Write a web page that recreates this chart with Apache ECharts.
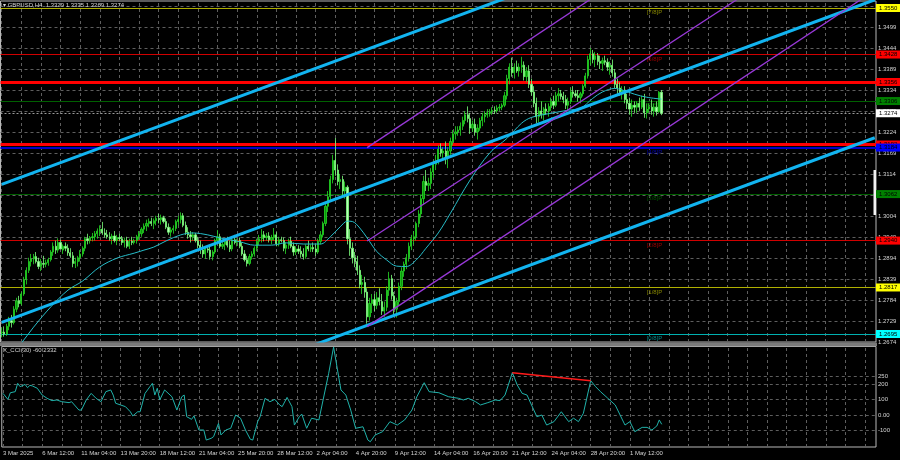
<!DOCTYPE html>
<html><head><meta charset="utf-8">
<script src="https://cdn.jsdelivr.net/npm/echarts@6/dist/echarts.min.js"></script>
<style>html,body{margin:0;padding:0;background:#000;}#c{width:900px;height:460px;}</style>
</head><body><div id="c"></div>
<script>
// ---------- DATA ----------
const symbolName = 'GBPUSD,H4';
// H4 candles [open, high, low, close]; bar 0 = 3 Mar 20:00
const candles = [
[1.2698,1.2712,1.2686,1.2700],
[1.2700,1.2715,1.2688,1.2695],[1.2695,1.2722,1.2690,1.2715],[1.2715,1.2740,1.2705,1.2730],[1.2730,1.2745,1.2712,1.2725],[1.2725,1.2768,1.2720,1.2760],[1.2760,1.2790,1.2752,1.2782],
[1.2782,1.2795,1.2765,1.2775],[1.2775,1.2805,1.2770,1.2800],[1.2800,1.2845,1.2795,1.2838],[1.2838,1.2870,1.2825,1.2862],[1.2862,1.2895,1.2855,1.2885],[1.2885,1.2905,1.2872,1.2892],
[1.2892,1.2905,1.2878,1.2898],[1.2898,1.2910,1.2880,1.2885],[1.2885,1.2895,1.2865,1.2872],[1.2872,1.2892,1.2860,1.2880],[1.2880,1.2900,1.2868,1.2878],[1.2878,1.2890,1.2870,1.2882],
[1.2882,1.2895,1.2874,1.2890],[1.2890,1.2915,1.2885,1.2910],[1.2910,1.2935,1.2900,1.2925],[1.2925,1.2940,1.2905,1.2915],[1.2915,1.2946,1.2908,1.2935],[1.2935,1.2942,1.2920,1.2918],
[1.2915,1.2930,1.2905,1.2925],[1.2925,1.2935,1.2912,1.2920],[1.2920,1.2930,1.2900,1.2908],[1.2908,1.2920,1.2895,1.2900],[1.2900,1.2910,1.2870,1.2880],[1.2880,1.2895,1.2868,1.2885],
[1.2885,1.2900,1.2872,1.2895],[1.2895,1.2915,1.2885,1.2905],[1.2905,1.2925,1.2898,1.2920],[1.2920,1.2950,1.2912,1.2945],[1.2945,1.2958,1.2930,1.2940],[1.2940,1.2952,1.2932,1.2948],
[1.2948,1.2960,1.2938,1.2950],[1.2950,1.2965,1.2940,1.2958],[1.2958,1.2972,1.2945,1.2965],[1.2965,1.2980,1.2952,1.2970],[1.2970,1.2989,1.2955,1.2960],[1.2960,1.2972,1.2948,1.2955],
[1.2955,1.2968,1.2945,1.2950],[1.2950,1.2962,1.2940,1.2945],[1.2945,1.2958,1.2930,1.2952],[1.2952,1.2965,1.2935,1.2940],[1.2940,1.2955,1.2928,1.2948],[1.2948,1.2958,1.2938,1.2945],
[1.2945,1.2952,1.2928,1.2935],[1.2935,1.2948,1.2922,1.2940],[1.2940,1.2950,1.2920,1.2925],[1.2925,1.2945,1.2918,1.2938],[1.2938,1.2950,1.2928,1.2935],[1.2935,1.2945,1.2930,1.2940],
[1.2940,1.2955,1.2932,1.2950],[1.2950,1.2965,1.2942,1.2958],[1.2958,1.2975,1.2950,1.2970],[1.2970,1.2985,1.2960,1.2978],[1.2978,1.2995,1.2965,1.2985],[1.2985,1.2998,1.2975,1.2990],
[1.2990,1.3000,1.2978,1.2985],[1.2985,1.2998,1.2970,1.2992],[1.2992,1.3005,1.2980,1.2998],[1.2998,1.3010,1.2985,1.2995],[1.2995,1.3008,1.2982,1.3000],[1.3000,1.3005,1.2985,1.2990],
[1.2990,1.2998,1.2970,1.2975],[1.2975,1.2985,1.2955,1.2962],[1.2962,1.2975,1.2950,1.2968],[1.2968,1.2980,1.2958,1.2972],[1.2972,1.2995,1.2965,1.2990],[1.2990,1.3005,1.2980,1.2995],
[1.2995,1.3014,1.2985,1.3005],[1.3005,1.3012,1.2975,1.2980],[1.2980,1.2990,1.2955,1.2962],[1.2962,1.2975,1.2945,1.2955],[1.2955,1.2965,1.2935,1.2950],[1.2950,1.2962,1.2940,1.2955],
[1.2955,1.2960,1.2935,1.2940],[1.2940,1.2950,1.2920,1.2928],[1.2928,1.2940,1.2905,1.2915],[1.2915,1.2930,1.2895,1.2905],[1.2905,1.2925,1.2892,1.2918],[1.2918,1.2925,1.2908,1.2915],
[1.2915,1.2925,1.2890,1.2898],[1.2898,1.2915,1.2888,1.2910],[1.2910,1.2945,1.2905,1.2940],[1.2940,1.2968,1.2930,1.2950],[1.2950,1.2958,1.2920,1.2925],[1.2925,1.2940,1.2918,1.2930],
[1.2930,1.2945,1.2915,1.2938],[1.2938,1.2950,1.2922,1.2928],[1.2928,1.2940,1.2910,1.2918],[1.2918,1.2948,1.2912,1.2942],[1.2942,1.2955,1.2930,1.2935],[1.2935,1.2945,1.2925,1.2940],
[1.2940,1.2948,1.2920,1.2925],[1.2925,1.2935,1.2900,1.2905],[1.2905,1.2915,1.2885,1.2890],[1.2890,1.2900,1.2872,1.2880],[1.2880,1.2905,1.2875,1.2898],[1.2898,1.2912,1.2890,1.2905],
[1.2905,1.2925,1.2898,1.2920],[1.2920,1.2945,1.2912,1.2938],[1.2938,1.2955,1.2928,1.2945],[1.2945,1.2970,1.2935,1.2955],[1.2955,1.2965,1.2938,1.2948],[1.2948,1.2960,1.2940,1.2952],
[1.2952,1.2962,1.2935,1.2942],[1.2942,1.2955,1.2930,1.2948],[1.2948,1.2973,1.2940,1.2955],[1.2955,1.2962,1.2925,1.2932],[1.2932,1.2950,1.2925,1.2942],[1.2942,1.2950,1.2935,1.2940],
[1.2940,1.2948,1.2912,1.2920],[1.2920,1.2935,1.2905,1.2928],[1.2928,1.2945,1.2918,1.2938],[1.2938,1.2950,1.2920,1.2925],[1.2925,1.2935,1.2900,1.2910],[1.2910,1.2925,1.2902,1.2918],
[1.2918,1.2928,1.2905,1.2912],[1.2912,1.2925,1.2895,1.2905],[1.2905,1.2920,1.2890,1.2898],[1.2898,1.2930,1.2892,1.2925],[1.2925,1.2940,1.2912,1.2918],[1.2918,1.2930,1.2910,1.2922],
[1.2922,1.2935,1.2910,1.2918],[1.2918,1.2930,1.2900,1.2910],[1.2910,1.2945,1.2905,1.2938],[1.2938,1.2965,1.2930,1.2955],[1.2955,1.2990,1.2948,1.2985],[1.2985,1.3040,1.2978,1.3030],
[1.3030,1.3070,1.3015,1.3055],[1.3055,1.3110,1.3045,1.3100],[1.3100,1.3165,1.3090,1.3150],[1.3150,1.3209,1.3110,1.3125],[1.3125,1.3140,1.3085,1.3095],[1.3095,1.3115,1.3075,1.3100],
[1.3100,1.3110,1.3060,1.3070],[1.3070,1.3095,1.3050,1.3080],[1.3080,1.3085,1.2930,1.2945],[1.2945,1.2970,1.2900,1.2920],[1.2920,1.2935,1.2880,1.2895],[1.2895,1.2910,1.2870,1.2885],
[1.2885,1.2900,1.2850,1.2862],[1.2862,1.2875,1.2815,1.2825],[1.2825,1.2850,1.2800,1.2830],[1.2830,1.2845,1.2790,1.2805],[1.2805,1.2815,1.2722,1.2740],[1.2740,1.2790,1.2730,1.2775],
[1.2775,1.2800,1.2750,1.2785],[1.2785,1.2800,1.2755,1.2770],[1.2770,1.2805,1.2760,1.2790],[1.2790,1.2815,1.2770,1.2780],[1.2780,1.2800,1.2745,1.2755],[1.2755,1.2780,1.2740,1.2765],
[1.2765,1.2820,1.2755,1.2810],[1.2810,1.2858,1.2795,1.2840],[1.2840,1.2850,1.2785,1.2795],[1.2795,1.2805,1.2745,1.2760],[1.2760,1.2790,1.2738,1.2780],[1.2780,1.2830,1.2770,1.2820],
[1.2820,1.2870,1.2810,1.2860],[1.2860,1.2885,1.2845,1.2878],[1.2878,1.2905,1.2865,1.2895],[1.2895,1.2935,1.2885,1.2925],[1.2925,1.2955,1.2915,1.2945],[1.2945,1.2965,1.2930,1.2950],
[1.2950,1.2990,1.2940,1.2985],[1.2985,1.3020,1.2975,1.3010],[1.3010,1.3060,1.3000,1.3050],[1.3050,1.3110,1.3035,1.3095],[1.3095,1.3125,1.3070,1.3085],[1.3085,1.3105,1.3070,1.3090],
[1.3090,1.3130,1.3075,1.3120],[1.3120,1.3150,1.3105,1.3140],[1.3140,1.3165,1.3125,1.3150],[1.3150,1.3190,1.3140,1.3180],[1.3180,1.3195,1.3160,1.3170],[1.3170,1.3185,1.3150,1.3175],
[1.3175,1.3200,1.3140,1.3160],[1.3160,1.3185,1.3130,1.3175],[1.3175,1.3210,1.3165,1.3200],[1.3200,1.3230,1.3190,1.3220],[1.3220,1.3240,1.3205,1.3225],[1.3225,1.3240,1.3215,1.3230],
[1.3230,1.3250,1.3215,1.3240],[1.3240,1.3265,1.3230,1.3255],[1.3255,1.3280,1.3245,1.3270],[1.3270,1.3292,1.3250,1.3260],[1.3260,1.3275,1.3220,1.3235],[1.3235,1.3255,1.3225,1.3245],
[1.3245,1.3260,1.3215,1.3225],[1.3225,1.3245,1.3205,1.3235],[1.3235,1.3262,1.3228,1.3255],[1.3255,1.3275,1.3240,1.3265],[1.3265,1.3280,1.3250,1.3270],[1.3270,1.3285,1.3262,1.3275],
[1.3275,1.3285,1.3265,1.3278],[1.3278,1.3290,1.3270,1.3282],[1.3282,1.3292,1.3272,1.3280],[1.3280,1.3295,1.3275,1.3288],[1.3288,1.3298,1.3280,1.3290],[1.3290,1.3300,1.3282,1.3295],
[1.3295,1.3330,1.3290,1.3320],[1.3320,1.3375,1.3310,1.3365],[1.3365,1.3405,1.3350,1.3395],[1.3395,1.3420,1.3370,1.3380],[1.3380,1.3405,1.3365,1.3395],[1.3395,1.3412,1.3380,1.3385],
[1.3385,1.3405,1.3370,1.3395],[1.3395,1.3422,1.3380,1.3400],[1.3400,1.3410,1.3360,1.3370],[1.3370,1.3395,1.3355,1.3385],[1.3385,1.3400,1.3340,1.3350],[1.3350,1.3365,1.3320,1.3330],
[1.3330,1.3345,1.3290,1.3300],[1.3300,1.3315,1.3248,1.3265],[1.3265,1.3290,1.3250,1.3280],[1.3280,1.3305,1.3260,1.3270],[1.3270,1.3290,1.3255,1.3285],[1.3285,1.3300,1.3270,1.3280],
[1.3280,1.3300,1.3265,1.3292],[1.3292,1.3315,1.3280,1.3305],[1.3305,1.3320,1.3285,1.3295],[1.3295,1.3330,1.3290,1.3320],[1.3320,1.3340,1.3305,1.3325],[1.3325,1.3335,1.3310,1.3318],
[1.3318,1.3330,1.3300,1.3310],[1.3310,1.3322,1.3285,1.3295],[1.3295,1.3315,1.3280,1.3305],[1.3305,1.3340,1.3298,1.3330],[1.3330,1.3345,1.3315,1.3325],[1.3325,1.3335,1.3315,1.3320],
[1.3320,1.3335,1.3305,1.3315],[1.3315,1.3330,1.3300,1.3325],[1.3325,1.3350,1.3318,1.3345],[1.3345,1.3380,1.3340,1.3372],[1.3372,1.3425,1.3365,1.3415],[1.3415,1.3445,1.3400,1.3430],
[1.3430,1.3440,1.3405,1.3415],[1.3415,1.3435,1.3395,1.3425],[1.3425,1.3432,1.3400,1.3410],[1.3410,1.3425,1.3390,1.3405],[1.3405,1.3420,1.3385,1.3412],[1.3412,1.3425,1.3400,1.3408],
[1.3408,1.3418,1.3385,1.3395],[1.3395,1.3410,1.3375,1.3400],[1.3400,1.3415,1.3370,1.3380],[1.3380,1.3390,1.3340,1.3350],[1.3350,1.3365,1.3325,1.3340],[1.3340,1.3355,1.3320,1.3330],
[1.3330,1.3345,1.3310,1.3335],[1.3335,1.3345,1.3300,1.3310],[1.3310,1.3325,1.3285,1.3300],[1.3300,1.3315,1.3270,1.3285],[1.3285,1.3310,1.3265,1.3295],[1.3295,1.3305,1.3275,1.3290],
[1.3290,1.3305,1.3275,1.3300],[1.3300,1.3315,1.3280,1.3290],[1.3290,1.3320,1.3285,1.3310],[1.3310,1.3325,1.3262,1.3275],[1.3275,1.3300,1.3260,1.3285],[1.3285,1.3300,1.3275,1.3290],
[1.3290,1.3310,1.3270,1.3280],[1.3280,1.3300,1.3265,1.3290],[1.3290,1.3305,1.3268,1.3278],[1.3278,1.3332,1.3275,1.3329],[1.3329,1.3335,1.3269,1.3274]
];
// moving average: bar index -> value
const maBars = [0,8,13,20,27,33,40,47,54,58,62,67,73,78,84,89,97,103,110,116,123,130,134,138,141,143,146,149,153,157,161,165,169,173,178,183,191,199,206,212,216,224,231,236,241,245,250,253,258,263,269];
const maVals = [1.2610,1.2671,1.2713,1.2766,1.2810,1.2834,1.2871,1.2894,1.2907,1.2915,1.2923,1.2939,1.2955,1.2960,1.2955,1.2947,1.2937,1.2928,1.2928,1.2934,1.2931,1.2931,1.2950,1.2976,1.2991,1.2990,1.2973,1.2947,1.2911,1.2889,1.2873,1.2872,1.2889,1.2920,1.2960,1.3012,1.3099,1.3170,1.3208,1.3248,1.3263,1.3274,1.3282,1.3287,1.3313,1.3330,1.3339,1.3335,1.3324,1.3316,1.3311];
// X_CCI(30)
const cciBars = [0,2,3,5,6,7,9,10,11,12,14,16,18,20,22,24,27,28,31,32,34,36,38,40,42,44,45,46,48,50,52,53,55,56,58,61,62,63,64,66,69,71,73,74,75,77,78,80,82,83,85,86,88,89,91,93,95,97,99,101,102,104,105,107,109,111,113,114,116,118,119,121,122,124,126,129,133,135,138,140,142,144,147,149,150,152,155,158,161,164,167,169,172,174,178,182,186,188,190,193,195,198,201,203,205,208,210,212,214,218,220,222,225,228,231,233,235,237,240,242,244,247,250,252,254,256,258,261,263,265,267,268,269];
const cciVals = [140,101,144,151,205,183,198,177,192,188,173,129,108,93,97,86,80,86,32,32,97,140,108,86,151,162,129,76,65,54,21,-6,21,21,140,205,129,173,97,162,118,32,118,129,-11,-28,-6,-97,-97,-162,-151,-140,-54,-129,-97,-86,0,-21,-97,-157,-162,-43,-11,108,86,101,65,54,114,54,-65,-11,6,-86,-21,-32,270,440,162,129,32,-86,-76,-162,-173,-129,-108,-43,-65,-32,32,118,209,151,144,118,108,97,108,86,65,80,97,93,129,274,194,140,129,-11,0,-65,-43,21,-43,-21,-43,11,222,183,151,108,65,0,-65,-43,-108,-80,-80,-97,-71,-32,-60.2332];
const cciMax = 443.8052, cciMinText = '-308.364';
const cciLevels = [250, 200, 100, 0, -100];
const cciDivergence = [[208, 274], [240, 222]];
// time axis
const timeLabels = ['3 Mar 2025','6 Mar 12:00','11 Mar 04:00','13 Mar 20:00','18 Mar 12:00','21 Mar 04:00','25 Mar 20:00','28 Mar 12:00','2 Apr 04:00','4 Apr 20:00','9 Apr 12:00','14 Apr 04:00','16 Apr 20:00','21 Apr 12:00','24 Apr 04:00','28 Apr 20:00','1 May 12:00'];
const timeLabelBars = [0,16,32,48,64,80,96,112,128,144,160,176,192,208,224,240,256];
const totalSlots = 357;
// price scale ticks
const priceTicks = [1.2674,1.2729,1.2784,1.2839,1.2894,1.2949,1.3004,1.3059,1.3114,1.3169,1.3224,1.3279,1.3334,1.3389,1.3444,1.3499,1.3554];
// Murrey levels
const murreyPrices = [1.2695,1.2817,1.2940,1.3062,1.3184,1.3306,1.3428,1.3550];
const murreyNames = ['[0/8]P','[1/8]P','[2/8]P','[3/8]P','[4/8]P','[5/8]P','[6/8]P','[7/8]P'];
const murreyLabelBar = 263;
const redLevels = [1.3356, 1.3192];
// trend lines: anchors [bar, price]
const blueLines = [[[0,1.30874],[212,1.35913]], [[0,1.27255],[356,1.35717]], [[120,1.26487],[356,1.32097]]];
const purpleLines = [[[149,1.31839],[260,1.36582]], [[149,1.29389],[356,1.38083]], [[149,1.27144],[356,1.35963]]];

// ---------- STYLE ----------
const FONT = 'Liberation Sans, Arial, sans-serif';
const TXT = '#d4d4d4';
const GRIDC = '#5e5e5e';
const mLine = ['#00b0b0','#b0b000','#d00000','#006000','#0000c8','#006000','#d00000','#b0b000'];
const mBox  = ['#00ffff','#ffff00','#ff0000','#008000','#0000ff','#008000','#ff0000','#ffff00'];
const mText = ['#00a8a8','#a8a800','#c00000','#006800','#0000d0','#006800','#c00000','#a8a800'];
const mWidth = [1,1,1,1,2,1,1,1];

const lastBar = candles[candles.length - 1];
const cats = Array.from({length: totalSlots}, (_, i) => String(i));
const labelMap = {};
timeLabelBars.forEach((b, i) => labelMap[b] = timeLabels[i]);
const vBars = [];
for (let b = 0; b < totalSlots; b += 8) vBars.push(b);

const boxLabel = (bg, txt) => ({
  show: true, position: 'end', distance: 0, backgroundColor: bg, color: '#000',
  fontSize: 6, fontFamily: FONT, padding: [1, 3, 1, 3], formatter: txt
});

const levelLines = [];
redLevels.forEach(p => levelLines.push({
  yAxis: p, lineStyle: {color: '#ff0000', width: 3, type: 'solid'},
  label: boxLabel('#ff0000', p.toFixed(4))
}));
murreyPrices.forEach((p, i) => levelLines.push({
  yAxis: p, lineStyle: {color: mLine[i], width: mWidth[i], type: 'solid'},
  label: boxLabel(mBox[i], p.toFixed(4))
}));
levelLines.push({
  yAxis: lastBar[3], lineStyle: {color: '#9a9a9a', width: 1, type: [2, 2]},
  label: boxLabel('#ffffff', lastBar[3].toFixed(4))
});

const series = [
  // price grid lines + right scale labels
  { type: 'line', xAxisIndex: 0, yAxisIndex: 0, data: [], z: 1,
    markLine: { silent: true, symbol: ['none','none'], animation: false, z: 1, precision: 6,
      lineStyle: {color: GRIDC, type: [3,3], width: 1},
      label: {show: true, position: 'end', distance: 2, color: TXT, fontSize: 6, fontFamily: FONT},
      data: priceTicks.map(v => ({yAxis: v, label: {formatter: v.toFixed(4)}}))
        .concat(vBars.map(b => ({xAxis: b, label: {show: false}}))) } },
  // level lines with coloured price tags
  { type: 'line', xAxisIndex: 0, yAxisIndex: 0, data: [], z: 2,
    markLine: { silent: true, symbol: ['none','none'], animation: false, z: 2, precision: 6, data: levelLines } },
  // Murrey names
  { type: 'scatter', xAxisIndex: 0, yAxisIndex: 0, symbolSize: 0.1, z: 2, silent: true,
    data: murreyPrices.map((p, i) => ({
      value: [murreyLabelBar, p],
      label: {show: true, position: [0, 1.5], color: mText[i], fontSize: 6, fontFamily: FONT, formatter: murreyNames[i]}
    })) },
  // candles
  { type: 'candlestick', xAxisIndex: 0, yAxisIndex: 0, z: 3, barWidth: 1.7,
    data: candles.map(r => [r[0], r[3], r[2], r[1]]),
    itemStyle: {color: '#0c960c', color0: '#b8ffb8', borderColor: '#26dc26', borderColor0: '#7cff7c', borderWidth: 0.8} },
  // moving average
  { type: 'line', xAxisIndex: 0, yAxisIndex: 0, z: 4, showSymbol: false, smooth: 0.35, clip: true,
    data: maBars.map((b, i) => [b, maVals[i]]), lineStyle: {color: '#26bcc8', width: 1} }
];
blueLines.forEach(l => series.push({ type: 'line', xAxisIndex: 0, yAxisIndex: 0, z: 5, showSymbol: false, clip: true,
  data: l, lineStyle: {color: '#12b4f0', width: 3} }));
purpleLines.forEach(l => series.push({ type: 'line', xAxisIndex: 0, yAxisIndex: 0, z: 5, showSymbol: false, clip: true,
  data: l, lineStyle: {color: '#9838d8', width: 1.3} }));
// CCI panel
series.push({ type: 'line', xAxisIndex: 1, yAxisIndex: 1, data: [], z: 1,
  markLine: { silent: true, symbol: ['none','none'], animation: false, z: 1, precision: 6,
    lineStyle: {color: GRIDC, type: [3,3], width: 1},
    label: {show: true, position: 'end', distance: 2, color: TXT, fontSize: 6, fontFamily: FONT},
    data: cciLevels.map(v => ({yAxis: v, label: {formatter: v === 0 ? '0.00' : String(v)}}))
      .concat([
        {yAxis: cciMax, lineStyle: {width: 0, opacity: 0}, label: {formatter: String(cciMax), padding: [6,0,0,0]}},
        {yAxis: -207, lineStyle: {width: 0, opacity: 0}, label: {formatter: cciMinText, padding: [0,0,5,0]}}
      ])
      .concat(vBars.map(b => ({xAxis: b, label: {show: false}}))) } });
series.push({ type: 'line', xAxisIndex: 1, yAxisIndex: 1, z: 3, showSymbol: false, clip: true,
  data: cciBars.map((b, i) => [b, cciVals[i]]), lineStyle: {color: '#20b2aa', width: 1} });
series.push({ type: 'line', xAxisIndex: 1, yAxisIndex: 1, z: 4, showSymbol: false,
  data: cciDivergence, lineStyle: {color: '#ff1a1a', width: 1.5} });

const chart = echarts.init(document.getElementById('c'), null, {renderer: 'canvas'});
chart.setOption({
  backgroundColor: '#000',
  animation: false,
  textStyle: {fontFamily: FONT},
  title: [
    { text: '\u25BE ' + symbolName + '  ' + lastBar[0].toFixed(4) + ' ' + lastBar[1].toFixed(4) + ' ' + lastBar[2].toFixed(4) + ' ' + lastBar[3].toFixed(4),
      left: 3, top: 2, padding: 0, textStyle: {color: TXT, fontSize: 6, fontWeight: 'normal', fontFamily: FONT} },
    { text: 'X_CCI(30) ' + cciVals[cciVals.length - 1].toFixed(4),
      left: 3, top: 347, padding: 0, textStyle: {color: TXT, fontSize: 6, fontWeight: 'normal', fontFamily: FONT} }
  ],
  grid: [
    { left: 0.5, top: 1, width: 875.5, height: 341, show: true, borderColor: '#b8b8b8', borderWidth: 1, backgroundColor: 'transparent' },
    { left: 0.5, top: 346.4, width: 875.5, height: 100.6, show: true, borderColor: '#b8b8b8', borderWidth: 1, backgroundColor: 'transparent' }
  ],
  xAxis: [
    { type: 'category', gridIndex: 0, data: cats, boundaryGap: true,
      axisLine: {show: false}, axisTick: {show: false}, axisLabel: {show: false}, splitLine: {show: false} },
    { type: 'category', gridIndex: 1, data: cats, boundaryGap: true,
      axisLine: {show: false},
      axisTick: {show: true, alignWithLabel: true, length: 2, interval: i => labelMap[i] !== undefined, lineStyle: {color: '#b8b8b8'}},
      axisLabel: {show: true, interval: i => labelMap[i] !== undefined, formatter: (v, i) => labelMap[i] || '',
                  align: 'left', color: TXT, fontSize: 6, fontFamily: FONT, margin: 3},
      splitLine: {show: false} }
  ],
  yAxis: [
    { type: 'value', gridIndex: 0, min: 1.2674, max: 1.35684, position: 'right',
      axisLine: {show: false}, axisTick: {show: false}, axisLabel: {show: false}, splitLine: {show: false} },
    { type: 'value', gridIndex: 1, min: -207, max: cciMax, position: 'right',
      axisLine: {show: false}, axisTick: {show: false}, axisLabel: {show: false}, splitLine: {show: false} }
  ],
  graphic: [
    { type: 'rect', shape: {x: 0, y: 342.5, width: 877, height: 3.5}, style: {fill: '#7a7a7a'}, z: 10 },
    { type: 'rect', shape: {x: 873.5, y: 170, width: 2.5, height: 45}, style: {fill: '#f2f2f2'}, z: 10 }
  ],
  series: series
});
</script>
</body></html>
